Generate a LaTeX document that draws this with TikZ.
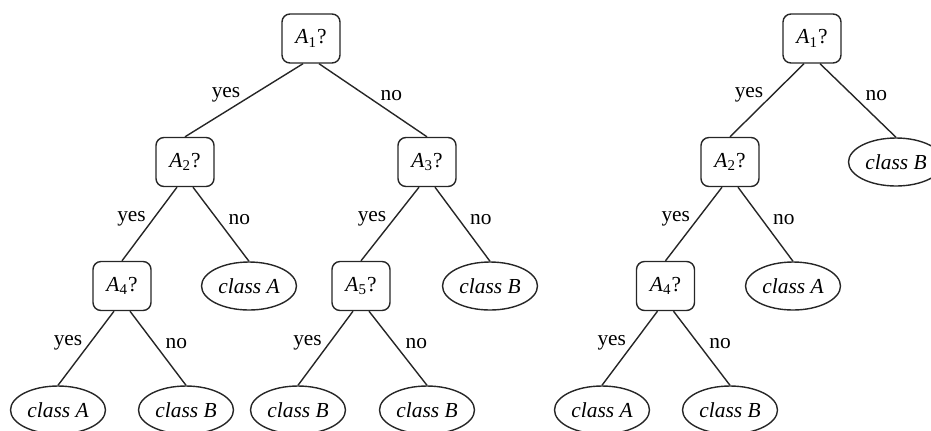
\documentclass[tikz,border=0pt]{standalone}
\usepackage{fontspec}
\setmainfont{Liberation Serif}
\usetikzlibrary{shapes.geometric}
\tikzset{
  test/.style={draw=black!85, line width=0.7pt, rounded corners=4pt, minimum width=29pt, minimum height=24.5pt, inner sep=0pt},
  leaf/.style={draw=black!85, line width=0.7pt, ellipse, minimum width=47.5pt, minimum height=24pt, inner sep=0pt},
  edge/.style={draw=black!85, line width=0.7pt},
  ylab/.style={above left, inner sep=1.5pt, yshift=-3pt},
  nlab/.style={above right, inner sep=1.5pt, xshift=2pt, yshift=-2pt},
  every node/.style={font=\fontsize{10.7pt}{13pt}\selectfont}
}
\newcommand\qq[1]{\textit{A}\textsubscript{#1}?}
\newcommand\cls[1]{\textit{class #1}}
\newcommand\splitedges[3]{%
  \draw[edge] ([xshift=-4pt]#1.south) -- node[ylab]{yes} (#2.north);
  \draw[edge] ([xshift=4pt]#1.south) -- node[nlab]{no} (#3.north);}
\begin{document}
\begin{tikzpicture}[x=0.5pt, y=-0.5pt]
\useasboundingbox (0,0) rectangle (931,430);
% left tree
\node[test] (a1) at (311,38.5) {\qq{1}};
\node[test] (a2) at (185,162) {\qq{2}};
\node[test] (a3) at (427,162) {\qq{3}};
\node[test] (a4) at (122,286) {\qq{4}};
\node[leaf] (la2) at (249,286) {\cls{A}};
\node[test] (a5) at (361,286) {\qq{5}};
\node[leaf] (lb3) at (490,286) {\cls{B}};
\node[leaf] (l1) at (58,410) {\cls{A}};
\node[leaf] (l2) at (186,410) {\cls{B}};
\node[leaf] (l3) at (298,410) {\cls{B}};
\node[leaf] (l4) at (427,410) {\cls{B}};
\splitedges{a1}{a2}{a3}
\splitedges{a2}{a4}{la2}
\splitedges{a3}{a5}{lb3}
\splitedges{a4}{l1}{l2}
\splitedges{a5}{l3}{l4}
% right tree
\node[test] (r1) at (812,38.5) {\qq{1}};
\node[test] (r2) at (730,162) {\qq{2}};
\node[leaf] (rb) at (896,162) {\cls{B}};
\node[test] (r4) at (665.5,286) {\qq{4}};
\node[leaf] (ra) at (793,286) {\cls{A}};
\node[leaf] (rl1) at (602,410) {\cls{A}};
\node[leaf] (rl2) at (730,410) {\cls{B}};
\splitedges{r1}{r2}{rb}
\splitedges{r2}{r4}{ra}
\splitedges{r4}{rl1}{rl2}
\end{tikzpicture}
\end{document}
